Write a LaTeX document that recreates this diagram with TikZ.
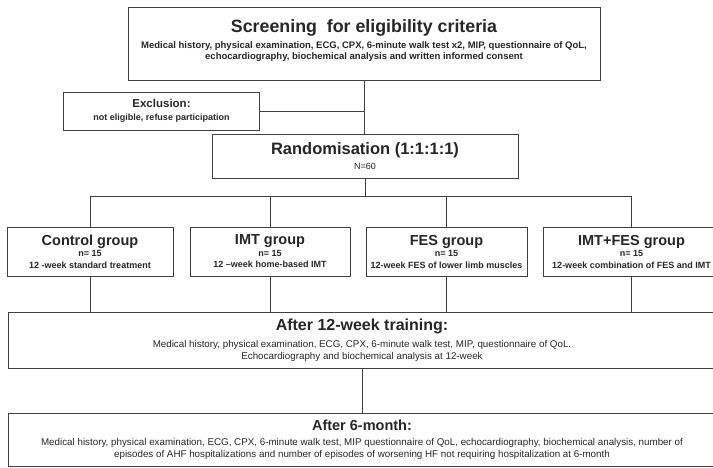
\documentclass[tikz,border=0pt]{standalone}
\usepackage{fontspec}
\setmainfont{Liberation Sans}
\usetikzlibrary{calc,positioning}
\tikzset{
	box/.style 2 args={draw=black!75, line width=1pt, align=center, inner sep=2pt,
		text=black!85, minimum width=#1, minimum height=#2,
		font=\fontsize{9}{11.5}\selectfont\bfseries},
	plain box/.style 2 args={box={#1}{#2}, font=\fontsize{9.8}{11.5}\selectfont},
	wire/.style={draw=black!75, line width=1pt}
}
\newcommand{\hdr}[2]{{\fontsize{#1}{#1}\selectfont\bfseries #2}}

\begin{document}
\begin{tikzpicture}[x=1pt,y=-1pt]
	\useasboundingbox (0,0) rectangle (713,467);
	\node[box={472pt}{73pt}] (screen) at (364,43.5)
		{\hdr{17.8}{Screening\ \ for eligibility criteria}\\[4pt]
		 {\fontsize{9.5}{11.5}\selectfont Medical history, physical examination, ECG, CPX, 6-minute walk test x2, MIP, questionnaire of QoL,}\\
		 {\fontsize{9.5}{11.5}\selectfont echocardiography, biochemical analysis and written informed consent}\\[-4pt]\mbox{}};
	\node[box={196pt}{38pt}] (excl) at (161.5,111)
		{\hdr{11.5}{Exclusion:}\\[1pt] not eligible, refuse participation};
	\node[box={306pt}{44pt}] (rand) at (365,156)
		{\hdr{16.5}{Randomisation (1:1:1:1)}\\[4pt] {\mdseries N=60}};
	\node[box={166pt}{49pt}] (ctrl) at (90,251.5)
		{\hdr{14.5}{Control group}\\ n= 15\\ 12 -week standard treatment};
	\node[box={160pt}{49pt}] (imt) at (270,251.5)
		{\hdr{14.5}{IMT group}\\ n= 15\\ 12 --week home-based IMT};
	\node[box={161pt}{49pt}] (fes) at (446.5,251.5)
		{\hdr{14.5}{FES group}\\ n= 15\\ 12-week FES of lower limb muscles};
	\node[box={177pt}{49pt}] (both) at (631.5,251.5)
		{\hdr{14.5}{IMT+FES group}\\ n= 15\\ 12-week combination of FES and IMT};
	\node[plain box={708pt}{56pt}] (wk12) at (362,340)
		{\hdr{16}{After 12-week training:}\\[6pt]
		 Medical history, physical examination, ECG, CPX, 6-minute walk test, MIP, questionnaire of QoL.\\
		 Echocardiography and biochemical analysis at 12-week};
	\node[plain box={708pt}{53pt}] (mo6) at (362,439.5)
		{\hdr{14.5}{After 6-month:}\\[4pt]
		 Medical history, physical examination, ECG, CPX, 6-minute walk test, MIP questionnaire of QoL, echocardiography, biochemical analysis, number of\\
		 episodes of AHF hospitalizations and number of episodes of worsening HF not requiring hospitalization at 6-month};
	\coordinate (bus) at ($(rand.south)+(0,18)$);
	\draw[wire] (screen.south) -- (screen.south |- rand.north);
	\draw[wire] (excl) -- (excl -| screen.south);
	\draw[wire] (rand) -- (bus);
	\draw[wire] (ctrl) |- (bus) -| (both);
	\draw[wire] (imt) -- (imt |- bus);
	\draw[wire] (fes) -- (fes |- bus);
	\foreach \g in {ctrl,imt,fes,both}
		\draw[wire] (\g) -- (\g |- wk12.north);
	\draw[wire] (wk12) -- (mo6);
\end{tikzpicture}
\end{document}
